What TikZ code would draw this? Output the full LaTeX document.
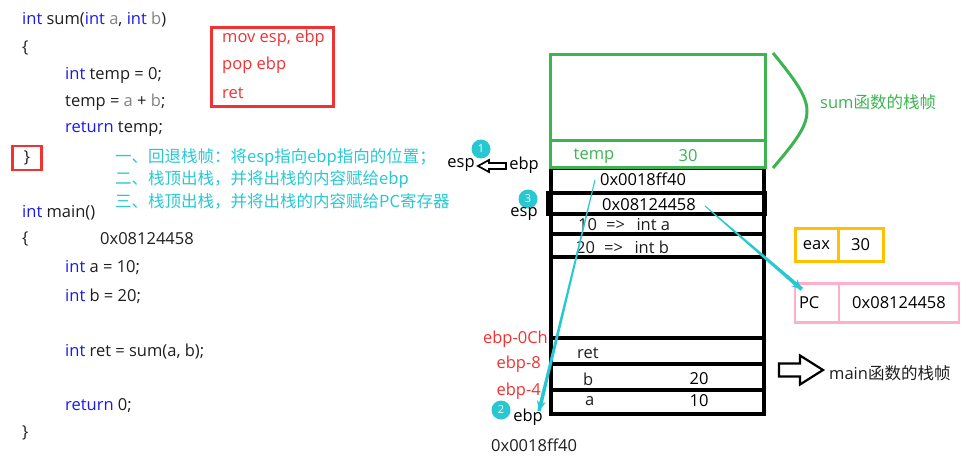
\documentclass[tikz,border=0pt]{standalone}
\usepackage{fontspec}
\setmainfont{Open Sans}
\newfontfamily\cjk{Noto Sans CJK SC}
\usetikzlibrary{positioning,arrows.meta,calc}

\definecolor{codeblue}{RGB}{25,25,235}
\definecolor{codegray}{RGB}{130,130,130}
\definecolor{codeblack}{RGB}{30,30,30}
\definecolor{framegreen}{RGB}{60,180,80}
\definecolor{notecyan}{RGB}{40,200,210}
\definecolor{asmred}{RGB}{240,50,50}
\definecolor{eaxyellow}{RGB}{255,192,0}
\definecolor{pcpink}{RGB}{255,175,200}

\newcommand{\kw}[1]{\textcolor{codeblue}{#1}}
\newcommand{\pa}[1]{\textcolor{codegray}{#1}}

\tikzset{
  code/.style={anchor=west,inner sep=0pt,text=codeblack},
  note/.style={anchor=west,inner sep=0pt,text=notecyan,font=\fontsize{16.5}{20}\cjk},
  badge/.style={circle,fill=notecyan,text=white,inner sep=0pt,minimum size=19pt,
    font=\fontsize{11}{11}\selectfont},
  cellline/.style={line width=3.5pt,line cap=rect},
  frameline/.style={framegreen,line width=3pt},
  regbox/.style={draw=#1,line width=3pt,inner sep=0pt},
  blockarrow/.style={draw=black,line join=miter},
  jumphead/.style={notecyan,line width=3pt,-{Stealth[length=10pt,width=9pt]}}
}

\begin{document}
\begin{tikzpicture}[x=1pt,y=-1pt,font=\fontsize{16.5}{20}\selectfont]
  \useasboundingbox (0,0) rectangle (975,468);

  % sum()
  \node[code] (sumhead) at (22,20) {\kw{int} sum(\kw{int} \pa{a}, \kw{int} \pa{b})};
  \node[code] (sumopen) at (22,48) {\{};
  \node[code] (tempdecl) at (65,75) {\kw{int} temp = 0;};
  \node[code] (tempadd) at (65,102) {temp = \pa{a} + \pa{b};};
  \node[code] (sumret) at (65,129) {\kw{return} temp;};
  \node[draw=asmred,line width=2.5pt,minimum width=29pt,minimum height=24pt,
    text=codeblack] (sumclose) at (27,158) {\}};

  % epilogue
  \node[draw=asmred,line width=2.5pt,minimum width=122pt,minimum height=79pt]
    (asmbox) at (272.5,67) {};
  \node[code,text=asmred] (asmmov) at (222,38) {mov esp, ebp};
  \node[code,text=asmred] (asmpop) at (222,65) {pop ebp};
  \node[code,text=asmred] (asmret) at (222,93) {ret};

  \node[note] (stepone) at (115,157) {一、回退栈帧：将esp指向ebp指向的位置；};
  \node[note] (steptwo) at (115,179) {二、栈顶出栈，并将出栈的内容赋给ebp};
  \node[note] (stepthree) at (115,201) {三、栈顶出栈，并将出栈的内容赋给PC寄存器};

  % main()
  \node[code] (mainhead) at (22,213) {\kw{int} main()};
  \node[code] (mainopen) at (22,239) {\{};
  \node[code] (retaddrtxt) at (100,239) {0x08124458};
  \node[code] (adecl) at (65,268) {\kw{int} a = 10;};
  \node[code] (bdecl) at (65,296) {\kw{int} b = 20;};
  \node[code] (retdecl) at (65,352) {\kw{int} ret = sum(a, b);};
  \node[code] (mainret) at (65,406) {\kw{return} 0;};
  \node[code] (mainclose) at (22,433) {\}};

  % stack
  \draw[cellline] (551,168) rectangle (764,414);
  \draw[cellline] (548,193) rectangle (765,214);
  \foreach \y in {234,257,338,364,390} {
    \draw[cellline] (551,\y) -- (764,\y);
  }
  \draw[frameline] (550,55) rectangle (765,168);
  \draw[frameline] (550,141) -- (765,141);

  \node[text=framegreen] (tempname) at (594,156) {temp};
  \node[text=framegreen] (tempval) at (688,156) {30};
  \node (oldebp) at (643,179) {0x0018ff40};
  \node (retaddr) at (649,205) {0x08124458};
  \node[code] (argone) at (578,225) {10\hspace{0.55em}=>\hspace{0.7em}int a};
  \node[code] (argtwo) at (576,247) {20\hspace{0.55em}=>\hspace{0.7em}int b};
  \node[code] (retslot) at (577,353) {ret};
  \node[code] (bslot) at (583,379) {b};
  \node (bval) at (699,379) {20};
  \node[code] (aslot) at (585,401) {a};
  \node (aval) at (699,401) {10};

  % frames
  \draw[frameline] (773,53) .. controls (795,80) and (807,96) .. (807,111)
    .. controls (807,127) and (795,142) .. (773,168);
  \node[code,text=framegreen] (sumframe) at (820,102) {sum{\cjk 函数的栈帧}};
  \draw[blockarrow,line width=2.2pt] (779,363.5) -- (800,363.5) -- (800,355.5) -- (823,370)
    -- (800,384.5) -- (800,376.5) -- (779,376.5) -- cycle;
  \node[code] (mainframe) at (829,373) {main{\cjk 函数的栈帧}};

  % registers
  \node[regbox=eaxyellow,minimum width=43pt,minimum height=33pt] (eaxname) at (816.5,245) {eax};
  \node[regbox=eaxyellow,minimum width=45pt,minimum height=33pt] (eaxval) at (860.5,245) {30};
  \node[regbox=pcpink,line width=2.5pt,minimum width=44pt,minimum height=39pt,
    text width=36pt] (pcname) at (817,303) {PC};
  \node[regbox=pcpink,line width=2.5pt,minimum width=120pt,minimum height=39pt]
    (pcval) at (899,303) {0x08124458};

  % esp / ebp
  \node (espone) at (461,165) {esp};
  \node (ebpone) at (524,165) {ebp};
  \draw[blockarrow,line width=1.7pt] (506,163) -- (489,163) -- (489,160) -- (478,166)
    -- (489,172) -- (489,169) -- (506,169) -- cycle;
  \node[badge] (badgeone) at (481,149) {1};
  \node[badge] (badgethree) at (528,199) {3};
  \node (esptwo) at (524,214) {esp};

  \node[anchor=east,inner sep=0pt,text=asmred] (offc) at (548,339) {ebp-0Ch};
  \node[anchor=east,inner sep=0pt,text=asmred] (offeight) at (541,364) {ebp-8};
  \node[anchor=east,inner sep=0pt,text=asmred] (offfour) at (541,391) {ebp-4};
  \node[badge] (badgetwo) at (501,410) {2};
  \node (ebptwo) at (528,417) {ebp};
  \node[code] (ebpaddr) at (491,445) {0x0018ff40};

  % jumps, tapering towards the tip
  \coordinate (oldebpout) at (595,180);
  \coordinate (ebpin) at (539,411);
  \coordinate (retaddrout) at (705,206);
  \coordinate (pcin) at ([shift={(8,7)}]pcname.north west);
  \fill[notecyan] ($(oldebpout)!0.5pt!90:(ebpin)$) -- ($(ebpin)!1.8pt!-90:(oldebpout)$)
    -- ($(ebpin)!1.8pt!90:(oldebpout)$) -- ($(oldebpout)!0.5pt!-90:(ebpin)$) -- cycle;
  \draw[jumphead] ($(oldebpout)!0.9!(ebpin)$) -- (ebpin);
  \fill[notecyan] ($(retaddrout)!0.5pt!90:(pcin)$) -- ($(pcin)!2pt!-90:(retaddrout)$)
    -- ($(pcin)!2pt!90:(retaddrout)$) -- ($(retaddrout)!0.5pt!-90:(pcin)$) -- cycle;
  \draw[jumphead] ($(retaddrout)!0.85!(pcin)$) -- (pcin);
\end{tikzpicture}
\end{document}
